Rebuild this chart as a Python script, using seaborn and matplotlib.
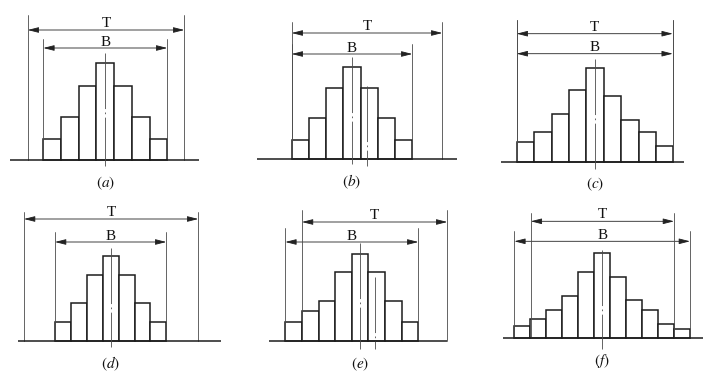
import matplotlib
matplotlib.use('Agg')
import matplotlib.pyplot as plt
import seaborn as sns
import pandas as pd

sns.set_theme(style='white')
plt.rcParams['font.family'] = ['Liberation Serif', 'DejaVu Serif']
plt.rcParams['mathtext.fontset'] = 'stix'
plt.rcParams['lines.scale_dashes'] = False

# ---------------- data (bar heights, limits in bar-index units) ----------------
panel_names = ['a', 'b', 'c', 'd', 'e', 'f']
heights_a = [21, 43, 74, 97, 74, 43, 21]
heights_b = [19, 41, 71, 92, 71, 41, 19]
heights_c = [20, 30, 48, 72, 94, 66, 42, 30, 16]
heights_d = [19, 38, 66, 85, 66, 38, 19]
heights_e = [19, 30, 40, 69, 87, 69, 40, 19]
heights_f = [12, 19, 28, 42, 66, 85, 61, 38, 28, 14, 9]
heights = [heights_a, heights_b, heights_c, heights_d, heights_e, heights_f]

peak_index = [3, 3, 4, 3, 4, 5]
T_lower = [-1.38, -0.5, -0.5, -2.45, 0.5, 0.53]
T_upper = [7.46, 8.24, 8.47, 8.51, 9.24, 9.5]
B_lower = [-0.5, -0.5, -0.5, -0.5, -0.5, -0.5]
B_upper = [6.5, 6.5, 8.47, 6.5, 7.5, 10.5]
show_T_centre = [False, True, False, False, True, False]

# ---------------- layout (pixels) ----------------
W, H = 711, 372
panel_rect = [(0, 0, 237, 192), (237, 0, 474, 192), (474, 0, 711, 192),
              (0, 192, 237, 372), (237, 192, 474, 372), (474, 192, 711, 372)]
layout = [
    dict(x0=43.3, w=17.71, base=160.0, Ttop=145, Tarr=130, Btop=121, Barr=112, ctr=(107, -6), tctr=None, ext=(-2.38, 8.29)),
    dict(x0=291.7, w=17.23, base=159.0, Ttop=137, Tarr=126, Btop=115, Barr=105, ctr=(102, -5), tctr=(73, -7), ext=(-2.5, 9.08)),
    dict(x0=516.7, w=17.4, base=161.7, Ttop=142, Tarr=128, Btop=142, Barr=108, ctr=(103, -7), tctr=None, ext=(-1.42, 9.13)),
    dict(x0=55.0, w=15.9, base=341.0, Ttop=129, Tarr=122, Btop=109, Barr=99, ctr=(93, -6), tctr=None, ext=(-2.81, 9.92)),
    dict(x0=285.3, w=16.63, base=341.0, Ttop=131, Tarr=119, Btop=113, Barr=99, ctr=(98, -8), tctr=(64, -8), ext=(-1.46, 9.24)),
    dict(x0=514.3, w=15.97, base=338.3, Ttop=125, Tarr=117, Btop=107, Barr=97, ctr=(88, -11), tctr=None, ext=(-1.19, 11.33)),
]

fig = plt.figure(figsize=(W / 100, H / 100), dpi=100)
fig.patch.set_facecolor('white')

dark = '#1c1c1c'
grey = '#4a4a4a'
centre_ls = (0, (40, 2.5, 1.2, 2.5))

for k in range(6):
    L, Tp, R, Bt = panel_rect[k]
    lay = layout[k]
    ax = fig.add_axes([L / W, 1 - Bt / H, (R - L) / W, (Bt - Tp) / H])
    h = heights[k]
    df = pd.DataFrame({'bin': list(range(len(h))), 'freq': h})
    sns.barplot(data=df, x='bin', y='freq', ax=ax, width=1.0, color='white',
                saturation=1, edgecolor=dark, linewidth=1.1, errorbar=None)
    ax.set_xlim((L - lay['x0']) / lay['w'] - 0.5, (R - lay['x0']) / lay['w'] - 0.5)
    ax.set_ylim(lay['base'] - Bt, lay['base'] - Tp)
    ax.axis('off')

    # baseline
    ax.plot(lay['ext'], [0, 0], color=dark, lw=1.1, solid_capstyle='butt', zorder=5)

    # tolerance (T) and spread (B) extension lines
    tl, tu = T_lower[k], T_upper[k]
    bl, bu = B_lower[k], B_upper[k]
    for xv in (tl, tu):
        ax.plot([xv, xv], [0, lay['Ttop']], color=grey, lw=0.6, zorder=4)
    for xv in (bl, bu):
        ax.plot([xv, xv], [0, lay['Btop']], color=grey, lw=0.6, zorder=4)

    arrow_kw = dict(arrowstyle='<|-|>,head_length=0.55,head_width=0.14',
                    lw=0.6, color='#222222', shrinkA=0, shrinkB=0)
    ax.annotate('', xy=(tu, lay['Tarr']), xytext=(tl, lay['Tarr']), arrowprops=arrow_kw)
    ax.annotate('', xy=(bu, lay['Barr']), xytext=(bl, lay['Barr']), arrowprops=arrow_kw)
    ax.text((tl + tu) / 2, lay['Tarr'] + 3, 'T', ha='center', va='baseline',
            fontsize=11, color='#111111')
    ax.text((bl + bu) / 2, lay['Barr'] + 2.5, 'B', ha='center', va='baseline',
            fontsize=11, color='#111111')

    # centre lines
    pk = peak_index[k]
    ax.plot([pk, pk], [lay['ctr'][0], lay['ctr'][1]], color=grey, lw=0.6,
            linestyle=centre_ls, zorder=6)
    if show_T_centre[k]:
        tc = (tl + tu) / 2
        ax.plot([tc, tc], [lay['tctr'][0], lay['tctr'][1]], color=grey, lw=0.6,
                linestyle=centre_ls, zorder=6)

    # panel label
    ax.text(pk, -27, r'$(' + panel_names[k] + ')$', ha='center', va='baseline',
            fontsize=11, color='#111111')

fig.savefig('out.png', dpi=100, facecolor='white')
